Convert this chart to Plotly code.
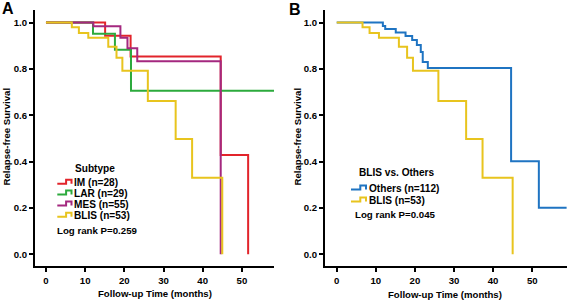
import plotly.graph_objects as go

W, H = 567, 302

# ---------------- data ----------------
# Panel A: subtypes
im_t = [0, 15.1, 21.6, 44.6, 51.6]
im_s = [1.0, 0.943, 0.853, 0.428, 0.0]

lar_t = [0, 12.0, 17.6, 21.7, 58.2]
lar_s = [1.0, 0.951, 0.882, 0.705, 0.705]

mes_t = [0, 12.1, 19.0, 20.8, 23.3, 44.6]
mes_s = [1.0, 0.984, 0.934, 0.889, 0.833, 0.0]

blis_t = [0, 6.6, 8.4, 10.8, 15.9, 18.0, 19.5, 26.0, 33.1, 37.3, 45.0]
blis_s = [1.0, 0.980, 0.955, 0.934, 0.895, 0.848, 0.792, 0.661, 0.497, 0.330, 0.0]

# Panel B: BLIS vs others
oth_t = [0, 11.8, 12.4, 15.1, 17.6, 19.3, 20.5, 21.5, 22.0, 23.3, 44.6, 51.7, 58.8]
oth_s = [1.0, 0.985, 0.972, 0.957, 0.942, 0.924, 0.903, 0.873, 0.830, 0.804, 0.401, 0.200, 0.200]

names_a = ["IM (n=28)", "LAR (n=29)", "MES (n=55)", "BLIS (n=53)"]
names_b = ["Others (n=112)", "BLIS (n=53)"]
legend_title_a = "Subtype"
legend_title_b = "BLIS vs. Others"
pval_a = "Log rank P=0.259"
pval_b = "Log rank P=0.045"

x_ticks = [0, 10, 20, 30, 40, 50]
y_ticks = [0.0, 0.2, 0.4, 0.6, 0.8, 1.0]
y_tick_text = ["0.0", "0.2", "0.4", "0.6", "0.8", "1.0"]

# ---------------- styles ----------------
RED = "#e2242b"
GREEN = "#2caa3d"
PURPLE = "#a4287f"
YELLOW = "#e8c41e"
BLUE = "#1f74c2"
FONT = "Liberation Sans, Arial, sans-serif"

fig = go.Figure()

def add_curve(t, s, color, name, xa, ya):
    fig.add_trace(go.Scatter(x=t, y=s, mode="lines", line=dict(color=color, width=2, shape="hv"),
                             name=name, xaxis=xa, yaxis=ya, showlegend=False))

add_curve(im_t, im_s, RED, names_a[0], "x", "y")
add_curve(lar_t, lar_s, GREEN, names_a[1], "x", "y")
add_curve(mes_t, mes_s, PURPLE, names_a[2], "x", "y")
add_curve(blis_t, blis_s, YELLOW, names_a[3], "x", "y")

add_curve(oth_t, oth_s, BLUE, names_b[0], "x2", "y2")
add_curve(blis_t, blis_s, YELLOW, names_b[1], "x2", "y2")

ax_common = dict(showgrid=False, zeroline=False, showline=True, linecolor="black", linewidth=2,
                 ticks="outside", ticklen=4, tickwidth=1.5, tickcolor="black",
                 tickfont=dict(family=FONT, size=9.6, color="black", weight="bold"))

ydom = [1 - 266 / H, 1 - 10 / H]
yrange = [-0.051, 1.054]

fig.update_layout(
    width=W, height=H, autosize=False,
    margin=dict(l=0, r=0, t=0, b=0),
    paper_bgcolor="white", plot_bgcolor="white",
    xaxis=dict(domain=[35 / W, 274 / W], range=[-2.8, 58.2], tickvals=x_ticks, anchor="y", **ax_common),
    yaxis=dict(domain=ydom, range=yrange, tickvals=y_ticks, ticktext=y_tick_text, anchor="x", **ax_common),
    xaxis2=dict(domain=[325 / W, 1.0], range=[-3.0, 58.9], tickvals=x_ticks, anchor="y2", **ax_common),
    yaxis2=dict(domain=ydom, range=yrange, tickvals=y_ticks, ticktext=y_tick_text, anchor="x2", **ax_common),
)

def px(x):
    return x / W

def py(y):
    return 1 - y / H

def text(x, y, s, size=10.1, xanchor="left", angle=0):
    fig.add_annotation(x=px(x), y=py(y), xref="paper", yref="paper", text=s, showarrow=False,
                       xanchor=xanchor, yanchor="middle", textangle=angle,
                       font=dict(family=FONT, size=size, color="black", weight="bold"))

def icon(x0, x1, yc, color):
    xm = x0 + (x1 - x0) * 0.62
    yb, yt = yc + 1.5, yc - 2.5
    path = (f"M {px(x0)},{py(yb)} L {px(xm)},{py(yb)} L {px(xm)},{py(yt)} "
            f"L {px(x1)},{py(yt)} L {px(x1)},{py(yb)}")
    fig.add_shape(type="path", path=path, xref="paper", yref="paper",
                  line=dict(color=color, width=2))

# panel letters
text(8, 8, "A", size=16, xanchor="center")
text(295, 9, "B", size=16, xanchor="center")

# axis titles
text(5.5, 137, "Relapse-free Survival", size=9.6, xanchor="center", angle=-90)
text(296.5, 137, "Relapse-free Survival", size=9.6, xanchor="center", angle=-90)
text(154.7, 293.3, "Follow-up Time (months)", size=9.6, xanchor="center")
text(445, 294.5, "Follow-up Time (months)", size=9.6, xanchor="center")

# legend A
text(72.7, 168.3, legend_title_a)
for name, color, yc in zip(names_a, [RED, GREEN, PURPLE, YELLOW], [182.3, 193.0, 204.0, 215.3]):
    icon(57.3, 71.5, yc, color)
    text(72.2, yc, name)
text(55, 230.7, pval_a, size=9.7)

# legend B
text(356.7, 172.3, legend_title_b)
for name, color, yc in zip(names_b, [BLUE, YELLOW], [188.0, 200.0]):
    icon(351, 366, yc, color)
    text(366.8, yc, name)
text(352.7, 214, pval_b, size=9.7)

fig.write_html("out.html", config={"displayModeBar": False},
               post_script="document.body.style.margin='0';document.body.style.overflow='hidden';")
